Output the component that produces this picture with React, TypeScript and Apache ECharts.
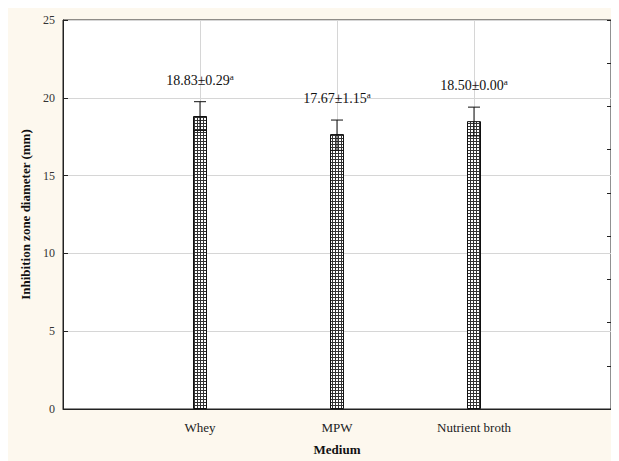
import React, { useEffect, useRef } from "react";
import * as echarts from "echarts";

const categories = ["Whey", "MPW", "Nutrient broth"];
const means = [18.83, 17.67, 18.5];
const sds = [0.29, 1.15, 0.0];
const letters = ["a", "a", "a"];
const errLow = [17.9, 16.62, 17.55];
const errHigh = [19.75, 18.57, 19.4];
const yTicks = { min: 0, max: 25, interval: 5 };

function makePattern() {
  const c = document.createElement("canvas");
  c.width = 3;
  c.height = 3;
  const ctx = c.getContext("2d")!;
  ctx.fillStyle = "#ffffff";
  ctx.fillRect(0, 0, 3, 3);
  ctx.fillStyle = "#333333";
  ctx.fillRect(0, 0, 3, 1);
  ctx.fillRect(0, 0, 1, 3);
  return c;
}

export default function App() {
  const ref = useRef<HTMLDivElement>(null);
  useEffect(() => {
    if (!ref.current) return;
    const chart = echarts.init(ref.current, undefined, { renderer: "svg" });
    const font = "'Liberation Serif', 'Times New Roman', serif";
    const pattern = makePattern();
    const barData = means.map((m, i) => [i + 1, m]);
    const errData = categories.map((_, i) => [i + 1, errLow[i], errHigh[i]]);
    chart.setOption({
      animation: false,
      backgroundColor: "transparent",
      textStyle: { fontFamily: font },
      grid: {
        left: 55,
        right: 6,
        top: 14,
        bottom: 51,
        show: true,
        backgroundColor: "#ffffff",
        borderColor: "#222",
        borderWidth: 1,
      },
      xAxis: {
        type: "value",
        min: 0,
        max: categories.length + 1,
        interval: 1,
        name: "Medium",
        nameLocation: "middle",
        nameGap: 34,
        nameTextStyle: { fontFamily: font, fontWeight: "bold", fontSize: 13, color: "#111" },
        axisLine: { show: true, lineStyle: { color: "#222", width: 1 } },
        axisTick: { show: false },
        axisLabel: {
          fontFamily: font,
          fontSize: 13,
          color: "#222",
          margin: 12,
          formatter: (v: number) => categories[v - 1] ?? "",
        },
        splitLine: { show: true, lineStyle: { color: "#d6d6d6", width: 1 } },
      },
      yAxis: [
        {
          type: "value",
          min: yTicks.min,
          max: yTicks.max,
          interval: yTicks.interval,
          name: "Inhibition zone diameter (mm)",
          nameLocation: "middle",
          nameGap: 28,
          nameTextStyle: { fontFamily: font, fontWeight: "bold", fontSize: 13, color: "#111" },
          axisLine: { show: true, lineStyle: { color: "#222", width: 1 } },
          axisTick: { show: true, inside: true, length: 5, lineStyle: { color: "#222" } },
          axisLabel: { fontFamily: font, fontSize: 12, color: "#333", margin: 8 },
          splitLine: { show: true, lineStyle: { color: "#d6d6d6", width: 1 } },
        },
        {
          type: "value",
          position: "right",
          min: 0,
          max: 9,
          interval: 1,
          axisLine: { show: true, lineStyle: { color: "#222", width: 1 } },
          axisTick: { show: true, inside: true, length: 4, lineStyle: { color: "#222" } },
          axisLabel: { show: false },
          splitLine: { show: false },
        },
      ],
      series: [
        {
          type: "bar",
          data: barData,
          barWidth: 14,
          itemStyle: {
            color: { image: pattern, repeat: "repeat" },
            borderColor: "#111",
            borderWidth: 1,
          },
          label: {
            show: true,
            position: "top",
            distance: 27,
            formatter: (p: any) => {
              const i = p.dataIndex;
              return `{m|${means[i].toFixed(2)}±${sds[i].toFixed(2)}}{s|${letters[i]}}`;
            },
            rich: {
              m: { fontFamily: font, fontSize: 14, lineHeight: 17, color: "#111" },
              s: { fontFamily: font, fontSize: 9, lineHeight: 9, color: "#111", verticalAlign: "top" },
            },
          },
          z: 2,
        },
        {
          type: "custom",
          data: errData,
          z: 5,
          renderItem: (params: any, api: any) => {
            const x = api.value(0);
            const lo = api.coord([x, api.value(1)]);
            const hi = api.coord([x, api.value(2)]);
            const hw = 6;
            const style = { stroke: "#111", lineWidth: 1 };
            return {
              type: "group",
              children: [
                { type: "line", shape: { x1: hi[0], y1: hi[1], x2: lo[0], y2: lo[1] }, style },
                { type: "line", shape: { x1: hi[0] - hw, y1: hi[1], x2: hi[0] + hw, y2: hi[1] }, style },
                { type: "line", shape: { x1: lo[0] - hw, y1: lo[1], x2: lo[0] + hw, y2: lo[1] }, style },
              ],
            };
          },
        },
      ],
    });
    return () => chart.dispose();
  }, []);
  return (
    <div
      style={{
        width: 609,
        height: 455,
        marginTop: -2,
        background: "#fdf8ee",
      }}
    >
      <div ref={ref} style={{ width: 609, height: 455 }} />
    </div>
  );
}
